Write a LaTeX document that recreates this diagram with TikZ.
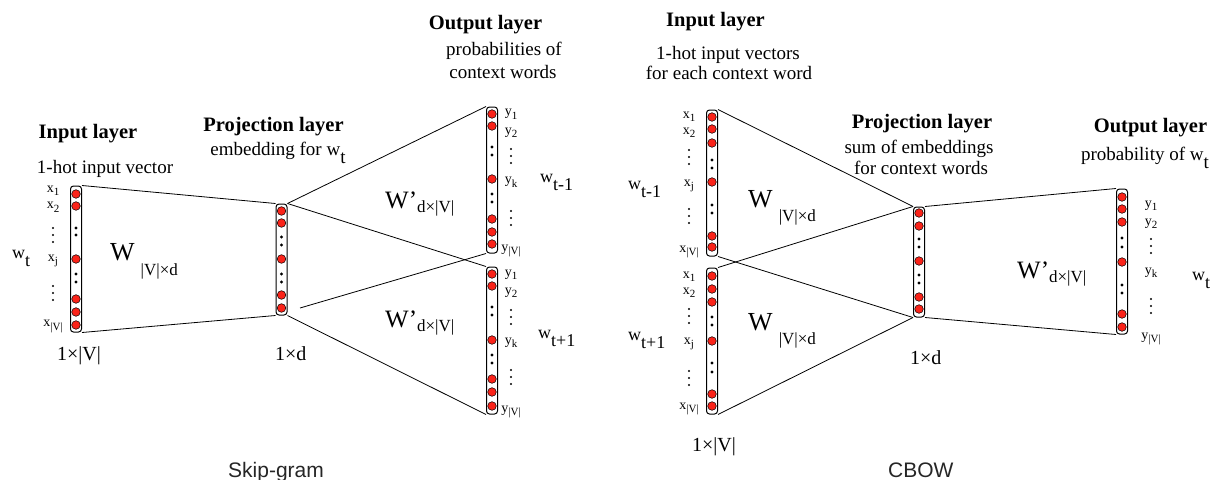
\documentclass[tikz,border=0pt]{standalone}
\usepackage{fontspec}
\setmainfont{Liberation Serif}
\newfontfamily\titlefont{Liberation Sans}
\definecolor{neuronred}{RGB}{250,35,25}
\newcommand\wsub[1]{w\raisebox{-8.5pt}{#1}}
\newcommand\isub[1]{\raisebox{-3.5pt}{\fontsize{11}{11}\selectfont #1}}
\tikzset{
  colbox/.style={draw=black, line width=1pt, rounded corners=3pt, minimum width=11pt, inner sep=0pt},
  neuron/.style={circle, draw=black, line width=0.5pt, fill=neuronred, minimum size=8.6pt, inner sep=0pt},
  ndot/.style={circle, fill=black, minimum size=3.4pt, inner sep=0pt},
  ldot/.style={circle, fill=black, minimum size=2.2pt, inner sep=0pt},
  conn/.style={line width=0.8pt},
  hdr/.style={font=\fontsize{20.5}{22}\selectfont\bfseries, anchor=base, inner sep=0pt},
  desc/.style={font=\fontsize{19}{21}\selectfont, anchor=base, inner sep=0pt},
  idx/.style={font=\fontsize{14}{14}\selectfont, inner sep=0pt},
  wlab/.style={font=\fontsize{18}{18}\selectfont, anchor=base west, inner sep=0pt},
  bigw/.style={font=\fontsize{26}{26}\selectfont, anchor=base west, inner sep=0pt},
  dimlab/.style={font=\fontsize{20}{20}\selectfont, anchor=base west, inner sep=0pt},
  ttl/.style={font=\titlefont\fontsize{21}{21}\selectfont, anchor=base west, inner sep=0pt, text=black!85},
}
% column: name, x, center y, height, neuron ys, dot ys
\newcommand\vcol[6]{%
  \node[colbox, minimum height=#4pt] (#1) at (#2,#3) {};
  \foreach \yy [count=\ii] in {#5} \node[neuron] (#1c\ii) at (#2,\yy) {};
  \foreach \yy [count=\ii] in {#6} \node[ndot] (#1d\ii) at (#2,\yy) {};
}
% labels: prefix, x, letter, sub/y list, vdots y list
\newcommand\vlabels[5]{%
  \foreach \ss/\yy [count=\ii] in {#4} \node[idx] (#1l\ii) at (#2,\yy) {#3\isub{\ss}};
  \foreach \yy [count=\ii] in {#5} {
    \node[ldot] (#1va\ii) at (#2,\yy-7) {};
    \node[ldot] (#1vb\ii) at (#2,\yy) {};
    \node[ldot] (#1vc\ii) at (#2,\yy+7) {};
  }
}
\begin{document}
\begin{tikzpicture}[x=1pt,y=-1pt]
\useasboundingbox (0,0) rectangle (1217,479);

% ================= Skip-gram =================
\vcol{SI}{76}{259}{146}{194,206,259,299,312,325}{228,235,274,282}
\vcol{SP}{281.5}{259.5}{111}{211,223,259,295,308}{237,245,274,282}
\vcol{SOa}{492}{180}{146}{114,126,179,219,232,244}{147,155,194,202}
\vcol{SOb}{492}{340.5}{147}{274,286,340,379,392,406}{307,315,355,363}

\vlabels{SIx}{53}{x}{1/191, 2/207.5, j/261, {|V|}/326.5}{235,293}
\vlabels{SOay}{511}{y}{1/114.5, 2/133, k/182.5, {|V|}/251}{156,218}
\vlabels{SOby}{511}{y}{1/275, 2/293, k/343, {|V|}/412}{317,377}

\coordinate (gap) at (300,308);
\draw[conn] (SI.north east) -- (SP.north west);
\draw[conn] (SI.south east) -- (SP.south west);
\draw[conn] (SP.north east) -- (SOa.north west);
\draw[conn] (SP.north east) -- (SOb.north west);
\draw[conn] (gap) -- (SOa.south west);
\draw[conn] (SP.south east) -- (SOb.south west);

\node[hdr] (sih) at (88,138) {Input layer};
\node[desc] (sid) at (105,173) {1-hot input vector};
\node[hdr] (sph) at (273.5,131) {Projection layer};
\node[desc] (spd) at (278,155) {embedding for \wsub{t}};
\node[hdr] (soh) at (485.5,29) {Output layer};
\node[desc] (sod1) at (504,55) {probabilities of};
\node[desc] (sod2) at (503,78) {context words};

\node[wlab] (swt) at (12,258) {\wsub{t}};
\node[wlab] (swm) at (540,182) {\wsub{t-1}};
\node[wlab] (swp) at (538,338) {\wsub{t+1}};

\node[bigw] (sW) at (110,260) {W\hspace{6pt}\raisebox{-15pt}{\fontsize{17}{17}\selectfont |V|×d}};
\node[bigw, font=\fontsize{25}{25}\selectfont] (sWa) at (385,208) {W’\raisebox{-4pt}{\fontsize{17}{17}\selectfont d×|V|}};
\node[bigw, font=\fontsize{25}{25}\selectfont] (sWb) at (385,327) {W’\raisebox{-4pt}{\fontsize{17}{17}\selectfont d×|V|}};

\node[dimlab] (sdim1) at (57,360) {1×|V|};
\node[dimlab] (sdim2) at (275,360) {1×d};
\node[ttl] (sttl) at (228,477) {Skip-gram};

% ================= CBOW =================
\vcol{CIa}{712}{183}{146}{117,129,143,182,236,247}{160,168,205,213}
\vcol{CIb}{712}{341}{146}{276,289,302,341,394,406}{317,325,363,372}
\vcol{CP}{919}{262}{110}{213,226,261,297,309}{239,247,275,283}
\vcol{CO}{1122}{261.5}{145}{197,209,222,262,314,327}{238,247,285,293}

\vlabels{CIax}{689}{x}{1/117, 2/133, j/186, {|V|}/252}{157,216}
\vlabels{CIbx}{689}{x}{1/277, 2/293, j/344, {|V|}/409}{316,378}
\vlabels{COy}{1151}{y}{1/206, 2/224, k/273, {|V|}/339}{246,306}

\draw[conn] (CIa.north east) -- (CP.north west);
\draw[conn] (CIa.south east) -- (CP.south west);
\draw[conn] (CIb.north east) -- (CP.north west);
\draw[conn] (CIb.south east) -- (CP.south west);
\draw[conn] (CP.north east) -- (CO.north west);
\draw[conn] (CP.south east) -- (CO.south west);

\node[hdr] (cih) at (715.5,27) {Input layer};
\node[desc] (cid1) at (728,59) {1-hot input vectors};
\node[desc] (cid2) at (729,79) {for each context word};
\node[hdr] (cph) at (922,128) {Projection layer};
\node[desc] (cpd1) at (919,153) {sum of embeddings};
\node[desc] (cpd2) at (921,174) {for context words};
\node[hdr] (coh) at (1150.5,132) {Output layer};
\node[desc] (cod) at (1145,160) {probability of \wsub{t}};

\node[wlab] (cwm) at (628,189) {\wsub{t-1}};
\node[wlab] (cwp) at (628,340) {\wsub{t+1}};
\node[wlab] (cwt) at (1192,280) {\wsub{t}};

\node[bigw] (cWa) at (748,207) {W\hspace{6pt}\raisebox{-14pt}{\fontsize{17}{17}\selectfont |V|×d}};
\node[bigw] (cWb) at (748,330) {W\hspace{6pt}\raisebox{-14pt}{\fontsize{17}{17}\selectfont |V|×d}};
\node[bigw, font=\fontsize{25}{25}\selectfont] (cWo) at (1017,278) {W’\raisebox{-4pt}{\fontsize{17}{17}\selectfont d×|V|}};

\node[dimlab] (cdim1) at (692,451) {1×|V|};
\node[dimlab] (cdim2) at (910,364) {1×d};
\node[ttl] (cttl) at (888,477) {CBOW};
\end{tikzpicture}
\end{document}
